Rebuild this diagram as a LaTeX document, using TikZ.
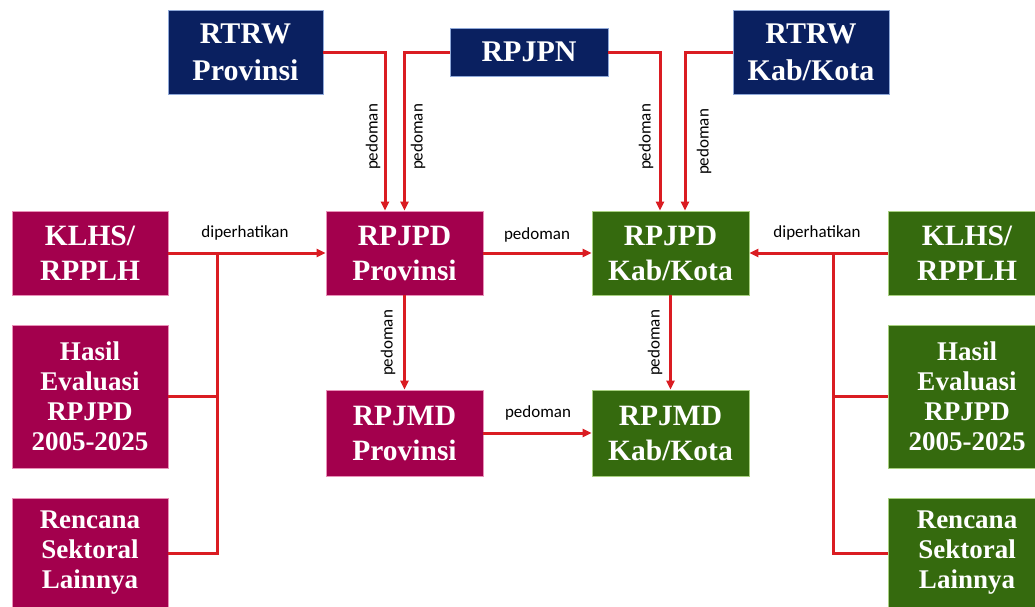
\documentclass[tikz,border=0pt]{standalone}
\usepackage{fontspec}
\setmainfont{Liberation Serif}
\newfontfamily\labfont{Carlito}
\usetikzlibrary{arrows.meta}
\definecolor{navy}{HTML}{0A2060}
\definecolor{navyline}{HTML}{8FA8D8}
\definecolor{magen}{HTML}{A3004D}
\definecolor{magenline}{HTML}{E890B8}
\definecolor{grn}{HTML}{356A0E}
\definecolor{grnline}{HTML}{A8D080}
\definecolor{redline}{HTML}{DA1C22}
\tikzset{
  box/.style={rectangle, inner sep=0pt, text=white, align=center, line width=0.8pt,
    font=\bfseries\fontsize{29.5}{35}\selectfont},
  navybox/.style={box, fill=navy, draw=navyline},
  magbox/.style={box, fill=magen, draw=magenline},
  grnbox/.style={box, fill=grn, draw=grnline},
  smalltext/.style={font=\bfseries\fontsize{27}{30}\selectfont},
  conn/.style={draw=redline, line width=3pt},
  arr/.style={conn, -{Triangle[length=9pt,width=8pt]}},
  lab/.style={inner sep=0pt, font=\labfont\fontsize{17}{17}\selectfont, text=black}
}
\begin{document}
\begin{tikzpicture}[x=1pt,y=-1pt]
\clip (0,0) rectangle (1035,606);
\fill[white] (0,0) rectangle (1035,606);
% top boxes
\node[navybox, minimum width=155, minimum height=84, font=\bfseries\fontsize{30}{37}\selectfont] (rtrwp) at (245.5,52) {RTRW\\Provinsi};
\node[navybox, minimum width=158, minimum height=48, font=\bfseries\fontsize{30}{37}\selectfont] (rpjpn) at (529,52) {RPJPN};
\node[navybox, minimum width=156, minimum height=84, font=\bfseries\fontsize{30}{37}\selectfont] (rtrwk) at (811,52) {RTRW\\Kab/Kota};
% left column
\node[magbox, minimum width=156, minimum height=84] (klhsL) at (90,253) {KLHS/\\RPPLH};
\node[magbox, smalltext, minimum width=156, minimum height=143] (hasilL) at (90,396.5) {Hasil\\Evaluasi\\RPJPD\\2005-2025};
\node[magbox, smalltext, minimum width=156, minimum height=110] (rencL) at (90,553) {Rencana\\Sektoral\\Lainnya};
% center
\node[magbox, minimum width=157, minimum height=84] (rpjpdP) at (404.5,253) {RPJPD\\Provinsi};
\node[magbox, minimum width=157, minimum height=86] (rpjmdP) at (404.5,433) {RPJMD\\Provinsi};
\node[grnbox, minimum width=157, minimum height=84] (rpjpdK) at (670.5,253) {RPJPD\\Kab/Kota};
\node[grnbox, minimum width=157, minimum height=86] (rpjmdK) at (670.5,433) {RPJMD\\Kab/Kota};
% right column
\node[grnbox, minimum width=158, minimum height=84] (klhsR) at (967,253) {KLHS/\\RPPLH};
\node[grnbox, smalltext, minimum width=158, minimum height=143] (hasilR) at (967,396.5) {Hasil\\Evaluasi\\RPJPD\\2005-2025};
\node[grnbox, smalltext, minimum width=158, minimum height=110] (rencR) at (967,553) {Rencana\\Sektoral\\Lainnya};
% junctions
\coordinate (jL) at (217,253);
\coordinate (jR) at (833,253);
% top connectors
\draw[arr] (rtrwp.east) -| ([xshift=-19.5pt]rpjpdP.north);
\draw[arr] (rpjpn.west) -| (rpjpdP.north);
\draw[arr] (rpjpn.east) -| ([xshift=-10.5pt]rpjpdK.north);
\draw[arr] (rtrwk.west) -| ([xshift=14.5pt]rpjpdK.north);
% left group
\draw[arr] (klhsL.east) -- (rpjpdP.west);
\draw[conn] (rencL.east) -| (jL);
\draw[conn] (hasilL.east) -- (hasilL.east -| jL);
% right group
\draw[arr] (klhsR.west) -- (rpjpdK.east);
\draw[conn] (rencR.west) -| (jR);
\draw[conn] (hasilR.west) -- (hasilR.west -| jR);
% center
\draw[arr] (rpjpdP.east) -- (rpjpdK.west);
\draw[arr] (rpjmdP.east) -- (rpjmdK.west);
\draw[arr] (rpjpdP.south) -- (rpjmdP.north);
\draw[arr] (rpjpdK.south) -- (rpjmdK.north);
% labels
\node[lab] (l1) at (245,233) {diperhatikan};
\node[lab] (l2) at (817,233) {diperhatikan};
\node[lab] (l3) at (537,235) {pedoman};
\node[lab] (l4) at (538,413) {pedoman};
\node[lab, rotate=90] (l5) at (373,137) {pedoman};
\node[lab, rotate=90] (l6) at (418,137) {pedoman};
\node[lab, rotate=90] (l7) at (646,137) {pedoman};
\node[lab, rotate=90] (l8) at (704,142) {pedoman};
\node[lab, rotate=90] (l9) at (388,343) {pedoman};
\node[lab, rotate=90] (l10) at (655,343) {pedoman};
\end{tikzpicture}
\end{document}
